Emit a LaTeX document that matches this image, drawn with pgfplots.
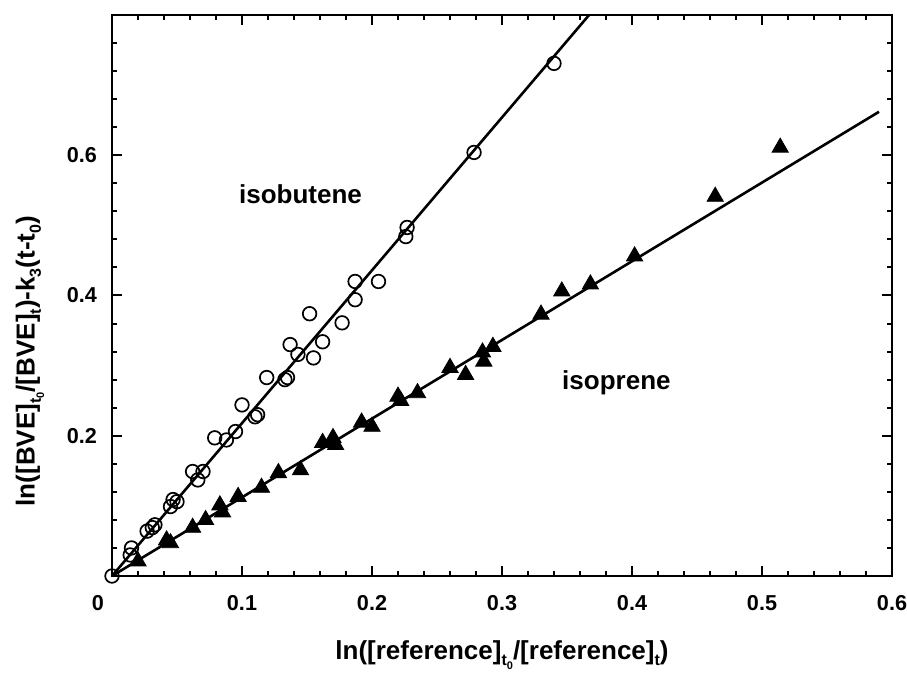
\documentclass[border=0pt]{standalone}
\usepackage{fontspec}
\setmainfont{Liberation Sans}
\usepackage{pgfplots}
\pgfplotsset{compat=1.18}

\newcommand\tsub[1]{\raisebox{-0.45ex}{\fontsize{8}{8}\selectfont #1}}
\newcommand\tzero{\raisebox{-0.45ex}{\fontsize{8}{8}\selectfont t\raisebox{-0.4ex}{\fontsize{5.5}{5.5}\selectfont 0}}}

\begin{document}
\begin{tikzpicture}
\begin{axis}[
  scale only axis,
  width=390pt, height=280.5pt,
  xmin=0, xmax=0.6, ymin=0, ymax=0.8,
  xtick={0,0.1,0.2,0.3,0.4,0.5,0.6},
  xticklabels={{\hbox to 0pt{\hss 0\hskip 4pt}},0.1,0.2,0.3,0.4,0.5,0.6},
  ytick={0,0.2,0.4,0.6,0.8},
  yticklabels={,0.2,0.4,0.6,},
  minor x tick num=4,
  minor y tick num=4,
  tick align=inside,
  major tick length=5pt,
  minor tick length=2.5pt,
  axis line style={line width=1pt},
  every tick/.style={line width=1pt, black},
  /pgf/number format/assume math mode=true,
  every tick label/.append style={font=\bfseries\fontsize{10.8}{12}\selectfont},
  xticklabel style={yshift=-6pt},
  yticklabel style={xshift=-4pt},
  xlabel={ln([reference]\tzero/[reference]\tsub{t})},
  ylabel={ln([BVE]\tzero/[BVE]\tsub{t})-k\tsub{3}(t-t\tsub{0})},
  label style={font=\bfseries\fontsize{13}{15}\selectfont},
  xlabel style={at={(axis description cs:0.5,-0.141)}, anchor=center},
  ylabel style={at={(axis description cs:-0.105,0.383)}, anchor=center, rotate=0},
]
% isobutene
\addplot[black, line width=1.3pt] coordinates {(0,0) (0.367,0.8)};
\addplot[only marks, mark=o, mark size=3.4pt, mark options={line width=0.85pt, black}] coordinates {
  (0,0) (0.015,0.040) (0.014,0.030)
  (0.027,0.064) (0.031,0.069) (0.033,0.073)
  (0.045,0.099) (0.047,0.109) (0.050,0.106)
  (0.062,0.149) (0.066,0.137) (0.070,0.149)
  (0.079,0.197) (0.088,0.194) (0.095,0.206) (0.100,0.244)
  (0.110,0.227) (0.112,0.230) (0.119,0.283) (0.133,0.280) (0.135,0.283)
  (0.137,0.330) (0.143,0.316) (0.152,0.374) (0.155,0.311) (0.162,0.334)
  (0.177,0.361) (0.187,0.420) (0.187,0.394) (0.205,0.420)
  (0.226,0.484) (0.227,0.497) (0.2785,0.604) (0.340,0.731)
};
% isoprene
\addplot[black, line width=1.3pt] coordinates {(0,0) (0.59,0.662)};
\addplot[only marks, mark=triangle*, mark size=4.7pt, mark options={black, fill=black}] coordinates {
  (0.020,0.021) (0.042,0.051) (0.045,0.047) (0.062,0.069) (0.072,0.080)
  (0.083,0.101) (0.085,0.091) (0.097,0.113) (0.115,0.126) (0.128,0.147)
  (0.145,0.151) (0.162,0.190) (0.170,0.197) (0.172,0.187) (0.192,0.219)
  (0.200,0.213) (0.220,0.256) (0.222,0.250) (0.235,0.261) (0.260,0.297)
  (0.272,0.287) (0.285,0.319) (0.286,0.306) (0.293,0.327) (0.330,0.373)
  (0.346,0.406) (0.368,0.416) (0.402,0.456) (0.464,0.541) (0.514,0.611)
};
\node[font=\bfseries\fontsize{13}{15}\selectfont] at (axis cs:0.145,0.545) {isobutene};
\node[font=\bfseries\fontsize{13}{15}\selectfont] at (axis cs:0.388,0.275) {isoprene};
\coordinate (ll) at (rel axis cs:0,0);
\coordinate (ur) at (rel axis cs:1,1);
\end{axis}
\pgfresetboundingbox
\path ([shift={(-56pt,-50.5pt)}]ll) rectangle ([shift={(7.5pt,7.5pt)}]ur);
\end{tikzpicture}
\end{document}
